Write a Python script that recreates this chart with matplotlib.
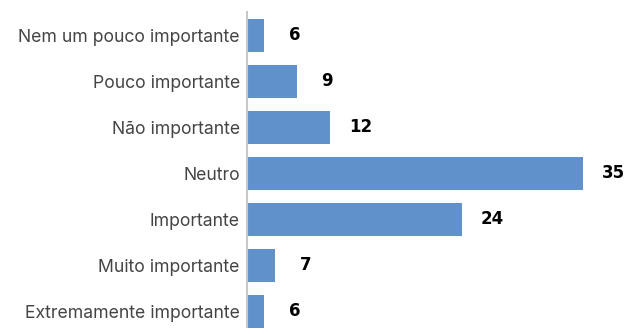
import matplotlib.pyplot as plt

categorias = ["Nem um pouco importante", "Pouco importante", "Não importante", "Neutro",
              "Importante", "Muito importante", "Extremamente importante"]
valores = [6, 9, 12, 35, 24, 7, 6]

fig = plt.figure(figsize=(6.27, 3.28), dpi=100)
# axes from the grey axis line to the right edge
ax = fig.add_axes([246.7 / 627, 0, (620 - 246.7) / 627, 1 - 12 / 328])

ypos = list(range(len(categorias)))
ax.barh(ypos, valores, height=0.72, color="#6191cb")

ax.set_xlim(4.4, 4.4 + (620 - 246.7) / 11)
ax.set_ylim(6.36, -0.507)

ax.set_yticks(ypos)
ax.set_yticklabels(categorias, fontsize=12.7, color="#444444", family="Inter")
ax.tick_params(axis="y", length=0, pad=5)
ax.set_xticks([])

for s in ["top", "right", "bottom"]:
    ax.spines[s].set_visible(False)
ax.spines["left"].set_color("#c8c8c8")
ax.spines["left"].set_linewidth(1.5)

for y, v in zip(ypos, valores):
    ax.annotate(str(v), (v, y), xytext=(21.6, 0), textcoords="offset points",
                ha="center", va="center", fontsize=12, fontweight="bold",
                color="black", family="DejaVu Sans")

fig.savefig("out.png", dpi=100)
